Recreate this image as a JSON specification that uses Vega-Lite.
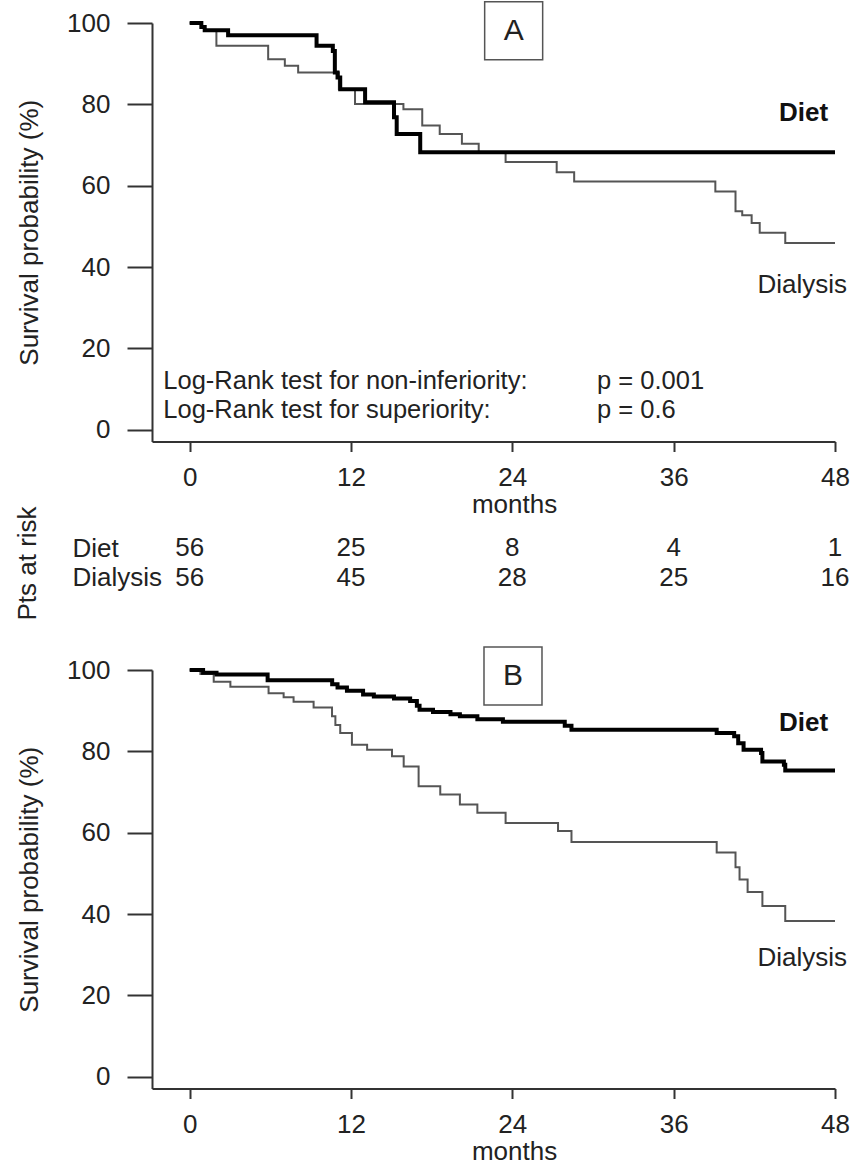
{
  "$schema": "https://vega.github.io/schema/vega-lite/v6.json",
  "background": "white",
  "padding": {"left": 14, "top": -2, "right": 0, "bottom": 0},
  "bounds": "flush",
  "spacing": 40,
  "config": {
    "font": "Liberation Sans",
    "view": {"stroke": null},
    "axis": {"grid": false, "labelFontSize": 26, "titleFontSize": 26, "titleFontWeight": "normal", "labelColor": "#222", "titleColor": "#222", "domainColor": "#333", "tickColor": "#333", "domainWidth": 2, "tickWidth": 2, "labelFont": "Liberation Sans", "titleFont": "Liberation Sans", "labelFlush": false},
    "axisX": {"tickSize": 10, "labelPadding": 13, "titlePadding": 1},
    "axisY": {"tickSize": 25, "labelPadding": 17, "titlePadding": 24},
    "text": {"font": "Liberation Sans", "fontSize": 26, "color": "#222"}
  },
  "datasets": {
    "curves": [
      {"panel":"A","group":"Diet","month":0,"pct":100},{"panel":"A","group":"Diet","month":0.87,"pct":99.0},{"panel":"A","group":"Diet","month":1.12,"pct":98.2},{"panel":"A","group":"Diet","month":2.86,"pct":97.0},{"panel":"A","group":"Diet","month":9.44,"pct":94.4},{"panel":"A","group":"Diet","month":10.65,"pct":93.1},{"panel":"A","group":"Diet","month":10.8,"pct":87.8},{"panel":"A","group":"Diet","month":11.0,"pct":86.6},{"panel":"A","group":"Diet","month":11.2,"pct":83.7},{"panel":"A","group":"Diet","month":13.05,"pct":80.5},{"panel":"A","group":"Diet","month":15.2,"pct":76.8},{"panel":"A","group":"Diet","month":15.4,"pct":72.7},{"panel":"A","group":"Diet","month":17.15,"pct":68.2},{"panel":"A","group":"Diet","month":48,"pct":68.2},
      {"panel":"A","group":"Dialysis","month":0,"pct":100},{"panel":"A","group":"Dialysis","month":0.87,"pct":99.0},{"panel":"A","group":"Dialysis","month":1.12,"pct":98.2},{"panel":"A","group":"Dialysis","month":1.99,"pct":94.4},{"panel":"A","group":"Dialysis","month":5.84,"pct":91.1},{"panel":"A","group":"Dialysis","month":7.08,"pct":89.5},{"panel":"A","group":"Dialysis","month":8.07,"pct":87.8},{"panel":"A","group":"Dialysis","month":11.1,"pct":83.7},{"panel":"A","group":"Dialysis","month":12.3,"pct":80.1},{"panel":"A","group":"Dialysis","month":15.9,"pct":78.8},{"panel":"A","group":"Dialysis","month":17.3,"pct":74.8},{"panel":"A","group":"Dialysis","month":18.6,"pct":72.7},{"panel":"A","group":"Dialysis","month":20.25,"pct":70.3},{"panel":"A","group":"Dialysis","month":21.5,"pct":68.2},{"panel":"A","group":"Dialysis","month":23.5,"pct":65.8},{"panel":"A","group":"Dialysis","month":27.3,"pct":63.3},{"panel":"A","group":"Dialysis","month":28.6,"pct":61.0},{"panel":"A","group":"Dialysis","month":39.1,"pct":58.6},{"panel":"A","group":"Dialysis","month":40.6,"pct":53.7},{"panel":"A","group":"Dialysis","month":41.1,"pct":52.7},{"panel":"A","group":"Dialysis","month":41.8,"pct":50.8},{"panel":"A","group":"Dialysis","month":42.4,"pct":48.4},{"panel":"A","group":"Dialysis","month":44.3,"pct":45.9},{"panel":"A","group":"Dialysis","month":48,"pct":45.9},
      {"panel":"B","group":"Diet","month":0,"pct":100},{"panel":"B","group":"Diet","month":1.0,"pct":99.3},{"panel":"B","group":"Diet","month":2.0,"pct":98.9},{"panel":"B","group":"Diet","month":5.8,"pct":97.5},{"panel":"B","group":"Diet","month":10.6,"pct":96.5},{"panel":"B","group":"Diet","month":11.0,"pct":95.7},{"panel":"B","group":"Diet","month":11.7,"pct":94.9},{"panel":"B","group":"Diet","month":12.9,"pct":94.0},{"panel":"B","group":"Diet","month":13.7,"pct":93.5},{"panel":"B","group":"Diet","month":15.2,"pct":93.0},{"panel":"B","group":"Diet","month":16.4,"pct":92.4},{"panel":"B","group":"Diet","month":16.9,"pct":91.2},{"panel":"B","group":"Diet","month":17.1,"pct":90.2},{"panel":"B","group":"Diet","month":18.1,"pct":89.7},{"panel":"B","group":"Diet","month":19.4,"pct":89.1},{"panel":"B","group":"Diet","month":20.1,"pct":88.6},{"panel":"B","group":"Diet","month":21.4,"pct":87.9},{"panel":"B","group":"Diet","month":23.3,"pct":87.3},{"panel":"B","group":"Diet","month":27.9,"pct":86.3},{"panel":"B","group":"Diet","month":28.4,"pct":85.3},{"panel":"B","group":"Diet","month":39.2,"pct":84.5},{"panel":"B","group":"Diet","month":40.5,"pct":83.7},{"panel":"B","group":"Diet","month":40.8,"pct":82.0},{"panel":"B","group":"Diet","month":41.2,"pct":80.4},{"panel":"B","group":"Diet","month":42.5,"pct":79.6},{"panel":"B","group":"Diet","month":42.6,"pct":77.5},{"panel":"B","group":"Diet","month":44.2,"pct":76.7},{"panel":"B","group":"Diet","month":44.3,"pct":75.3},{"panel":"B","group":"Diet","month":48,"pct":75.3},
      {"panel":"B","group":"Dialysis","month":0,"pct":100},{"panel":"B","group":"Dialysis","month":0.8,"pct":99.0},{"panel":"B","group":"Dialysis","month":1.79,"pct":97.1},{"panel":"B","group":"Dialysis","month":3.03,"pct":95.9},{"panel":"B","group":"Dialysis","month":5.87,"pct":94.3},{"panel":"B","group":"Dialysis","month":6.99,"pct":93.3},{"panel":"B","group":"Dialysis","month":7.73,"pct":92.2},{"panel":"B","group":"Dialysis","month":9.22,"pct":90.8},{"panel":"B","group":"Dialysis","month":10.59,"pct":88.6},{"panel":"B","group":"Dialysis","month":10.84,"pct":86.5},{"panel":"B","group":"Dialysis","month":11.2,"pct":84.5},{"panel":"B","group":"Dialysis","month":12.07,"pct":81.6},{"panel":"B","group":"Dialysis","month":13.2,"pct":80.4},{"panel":"B","group":"Dialysis","month":15.05,"pct":78.8},{"panel":"B","group":"Dialysis","month":15.92,"pct":76.3},{"panel":"B","group":"Dialysis","month":17.03,"pct":71.4},{"panel":"B","group":"Dialysis","month":18.64,"pct":69.4},{"panel":"B","group":"Dialysis","month":20.1,"pct":66.9},{"panel":"B","group":"Dialysis","month":21.4,"pct":64.9},{"panel":"B","group":"Dialysis","month":23.5,"pct":62.4},{"panel":"B","group":"Dialysis","month":27.4,"pct":60.4},{"panel":"B","group":"Dialysis","month":28.4,"pct":57.7},{"panel":"B","group":"Dialysis","month":39.2,"pct":55.1},{"panel":"B","group":"Dialysis","month":40.6,"pct":51.5},{"panel":"B","group":"Dialysis","month":40.9,"pct":48.5},{"panel":"B","group":"Dialysis","month":41.5,"pct":45.4},{"panel":"B","group":"Dialysis","month":42.6,"pct":42.0},{"panel":"B","group":"Dialysis","month":44.3,"pct":38.3},{"panel":"B","group":"Dialysis","month":48,"pct":38.3}
    ],
    "labels": [
      {"panel":"A","kind":"note","text":"Log-Rank test for non-inferiority:","month":-1.96,"pct":12.0},
      {"panel":"A","kind":"note","text":"p = 0.001","month":30.3,"pct":12.0},
      {"panel":"A","kind":"note","text":"Log-Rank test for superiority:","month":-1.96,"pct":4.9},
      {"panel":"A","kind":"note","text":"p = 0.6","month":30.3,"pct":4.9},
      {"panel":"A","kind":"diet","text":"Diet","month":47.49,"pct":77.9},
      {"panel":"A","kind":"dialysis","text":"Dialysis","month":48.9,"pct":35.7},
      {"panel":"B","kind":"diet","text":"Diet","month":47.49,"pct":87.0},
      {"panel":"B","kind":"dialysis","text":"Dialysis","month":48.9,"pct":29.3},
      {"panel":"A","kind":"box","text":"A","month":24.1,"pct":98.1},
      {"panel":"B","kind":"box","text":"B","month":24.05,"pct":98.5}
    ],
    "risk": [
      {"group":"Diet","month":0,"n":56},{"group":"Diet","month":12,"n":25},{"group":"Diet","month":24,"n":8},{"group":"Diet","month":36,"n":4},{"group":"Diet","month":48,"n":1},
      {"group":"Dialysis","month":0,"n":56},{"group":"Dialysis","month":12,"n":45},{"group":"Dialysis","month":24,"n":28},{"group":"Dialysis","month":36,"n":25},{"group":"Dialysis","month":48,"n":16}
    ]
  },
  "vconcat": [
    {
      "width": 683,
      "height": 418.5,
      "layer": [
        {
          "data": {"name": "curves"},
          "transform": [{"filter": "datum.panel === 'A' && datum.group === 'Dialysis'"}],
          "mark": {"type": "line", "interpolate": "step-after", "color": "#555", "strokeWidth": 2},
          "encoding": {
            "x": {"field": "month", "type": "quantitative", "scale": {"domain": [-2.8, 48], "nice": false, "zero": false}, "axis": {"values": [0, 12, 24, 36, 48], "title": "months", "titleX": 362}},
            "y": {"field": "pct", "type": "quantitative", "scale": {"domain": [-2.9, 100], "nice": false, "zero": false}, "axis": {"values": [0, 20, 40, 60, 80, 100], "title": "Survival probability (%)"}}
          }
        },
        {
          "data": {"name": "curves"},
          "transform": [{"filter": "datum.panel === 'A' && datum.group === 'Diet'"}],
          "mark": {"type": "line", "interpolate": "step-after", "color": "#000", "strokeWidth": 4},
          "encoding": {"x": {"field": "month", "type": "quantitative"}, "y": {"field": "pct", "type": "quantitative"}}
        },
        {
          "data": {"name": "labels"},
          "transform": [{"filter": "datum.panel === 'A' && datum.kind === 'box'"}],
          "mark": {"type": "point", "shape": "square", "size": 3364, "filled": false, "stroke": "#555", "strokeWidth": 1.5, "opacity": 1},
          "encoding": {"x": {"field": "month", "type": "quantitative"}, "y": {"field": "pct", "type": "quantitative"}}
        },
        {
          "data": {"name": "labels"},
          "transform": [{"filter": "datum.panel === 'A' && datum.kind === 'box'"}],
          "mark": {"type": "text", "fontSize": 30, "align": "center", "baseline": "middle"},
          "encoding": {"x": {"field": "month", "type": "quantitative"}, "y": {"field": "pct", "type": "quantitative"}, "text": {"field": "text"}}
        },
        {
          "data": {"name": "labels"},
          "transform": [{"filter": "datum.panel === 'A' && datum.kind === 'note'"}],
          "mark": {"type": "text", "fontSize": 25.5, "align": "left", "baseline": "middle"},
          "encoding": {"x": {"field": "month", "type": "quantitative"}, "y": {"field": "pct", "type": "quantitative"}, "text": {"field": "text"}}
        },
        {
          "data": {"name": "labels"},
          "transform": [{"filter": "datum.panel === 'A' && datum.kind === 'diet'"}],
          "mark": {"type": "text", "fontSize": 26, "fontWeight": "bold", "align": "right", "baseline": "middle", "color": "#111"},
          "encoding": {"x": {"field": "month", "type": "quantitative"}, "y": {"field": "pct", "type": "quantitative"}, "text": {"field": "text"}}
        },
        {
          "data": {"name": "labels"},
          "transform": [{"filter": "datum.panel === 'A' && datum.kind === 'dialysis'"}],
          "mark": {"type": "text", "fontSize": 26, "align": "right", "baseline": "middle"},
          "encoding": {"x": {"field": "month", "type": "quantitative"}, "y": {"field": "pct", "type": "quantitative"}, "text": {"field": "text"}}
        }
      ]
    },
    {
      "width": 683,
      "height": 148,
      "data": {"name": "risk"},
      "mark": {"type": "text", "fontSize": 26, "align": "center", "baseline": "middle"},
      "encoding": {
        "x": {"field": "month", "type": "quantitative", "scale": {"domain": [-2.8, 48], "nice": false, "zero": false}, "axis": null},
        "y": {"field": "group", "type": "nominal", "scale": {"type": "point", "domain": ["Diet", "Dialysis"], "range": [66.2, 95.7], "padding": 0}, "axis": {"title": "Pts at risk", "labelAlign": "left", "labelPadding": 80, "ticks": false, "tickSize": 0, "domain": false, "titlePadding": 32}},
        "text": {"field": "n", "type": "quantitative"}
      }
    },
    {
      "width": 683,
      "height": 418.5,
      "layer": [
        {
          "data": {"name": "curves"},
          "transform": [{"filter": "datum.panel === 'B' && datum.group === 'Dialysis'"}],
          "mark": {"type": "line", "interpolate": "step-after", "color": "#555", "strokeWidth": 2},
          "encoding": {
            "x": {"field": "month", "type": "quantitative", "scale": {"domain": [-2.8, 48], "nice": false, "zero": false}, "axis": {"values": [0, 12, 24, 36, 48], "title": "months", "titleX": 362}},
            "y": {"field": "pct", "type": "quantitative", "scale": {"domain": [-2.9, 100], "nice": false, "zero": false}, "axis": {"values": [0, 20, 40, 60, 80, 100], "title": "Survival probability (%)"}}
          }
        },
        {
          "data": {"name": "curves"},
          "transform": [{"filter": "datum.panel === 'B' && datum.group === 'Diet'"}],
          "mark": {"type": "line", "interpolate": "step-after", "color": "#000", "strokeWidth": 4},
          "encoding": {"x": {"field": "month", "type": "quantitative"}, "y": {"field": "pct", "type": "quantitative"}}
        },
        {
          "data": {"name": "labels"},
          "transform": [{"filter": "datum.panel === 'B' && datum.kind === 'box'"}],
          "mark": {"type": "point", "shape": "square", "size": 3364, "filled": false, "stroke": "#555", "strokeWidth": 1.5, "opacity": 1},
          "encoding": {"x": {"field": "month", "type": "quantitative"}, "y": {"field": "pct", "type": "quantitative"}}
        },
        {
          "data": {"name": "labels"},
          "transform": [{"filter": "datum.panel === 'B' && datum.kind === 'box'"}],
          "mark": {"type": "text", "fontSize": 30, "align": "center", "baseline": "middle"},
          "encoding": {"x": {"field": "month", "type": "quantitative"}, "y": {"field": "pct", "type": "quantitative"}, "text": {"field": "text"}}
        },
        {
          "data": {"name": "labels"},
          "transform": [{"filter": "datum.panel === 'B' && datum.kind === 'diet'"}],
          "mark": {"type": "text", "fontSize": 26, "fontWeight": "bold", "align": "right", "baseline": "middle", "color": "#111"},
          "encoding": {"x": {"field": "month", "type": "quantitative"}, "y": {"field": "pct", "type": "quantitative"}, "text": {"field": "text"}}
        },
        {
          "data": {"name": "labels"},
          "transform": [{"filter": "datum.panel === 'B' && datum.kind === 'dialysis'"}],
          "mark": {"type": "text", "fontSize": 26, "align": "right", "baseline": "middle"},
          "encoding": {"x": {"field": "month", "type": "quantitative"}, "y": {"field": "pct", "type": "quantitative"}, "text": {"field": "text"}}
        }
      ]
    }
  ]
}
